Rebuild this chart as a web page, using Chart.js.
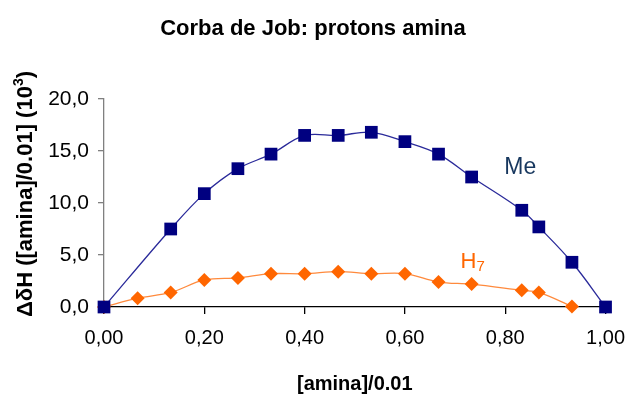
<!DOCTYPE html>
<html>
<head>
<meta charset="utf-8">
<script src="https://cdn.jsdelivr.net/npm/chart.js@4.4.1/dist/chart.umd.min.js"></script>
<style>
  html, body { margin: 0; padding: 0; background: #ffffff; }
  #wrap { width: 637px; height: 396px; position: relative; }
</style>
</head>
<body>
<div id="wrap"><canvas id="c" width="637" height="396"></canvas></div>
<script>
// Data
const titleText = "Corba de Job: protons amina";
const xAxisTitle = "[amina]/0.01";
const yAxisTitleParts = ["\u0394\u03B4H ([amina]/0.01] (10", "3", ")"];
const meX = [0, 0.133, 0.2, 0.267, 0.333, 0.4, 0.467, 0.533, 0.6, 0.667, 0.733, 0.833, 0.867, 0.933, 1.0];
const meY = [0, 7.5, 10.9, 13.3, 14.7, 16.5, 16.5, 16.8, 15.9, 14.7, 12.5, 9.3, 7.7, 4.3, 0];
const h7X = [0, 0.067, 0.133, 0.2, 0.267, 0.333, 0.4, 0.467, 0.533, 0.6, 0.667, 0.733, 0.833, 0.867, 0.933];
const h7Y = [0, 0.85, 1.4, 2.6, 2.8, 3.2, 3.2, 3.4, 3.2, 3.2, 2.4, 2.2, 1.6, 1.4, 0.05];
const xTicks = [0, 0.2, 0.4, 0.6, 0.8, 1.0];
const yTicks = [0, 5, 10, 15, 20];

const toPts = (xs, ys) => xs.map((x, i) => ({ x: x, y: ys[i] }));
const fmt = (v, d) => v.toFixed(d).replace('.', ',');
const FONT = "'Liberation Sans', Arial, sans-serif";

const labelsPlugin = {
  id: 'labels',
  afterDraw(chart) {
    const ctx = chart.ctx;
    const xs = chart.scales.x, ys = chart.scales.y;
    ctx.save();
    // main title
    ctx.fillStyle = '#000000';
    ctx.font = "bold 22px " + FONT;
    ctx.textAlign = 'center';
    ctx.textBaseline = 'middle';
    ctx.fillText(titleText, 313, 29);

    // y-axis title (rotated, with superscript)
    ctx.save();
    ctx.translate(26, 194);
    ctx.rotate(-Math.PI / 2);
    ctx.textAlign = 'left';
    ctx.textBaseline = 'middle';
    const big = "bold 22px " + FONT, small = "bold 14px " + FONT;
    ctx.font = big; const w0 = ctx.measureText(yAxisTitleParts[0]).width;
    ctx.font = small; const w1 = ctx.measureText(yAxisTitleParts[1]).width;
    ctx.font = big; const w2 = ctx.measureText(yAxisTitleParts[2]).width;
    let sx = -(w0 + w1 + w2) / 2;
    ctx.font = big; ctx.fillText(yAxisTitleParts[0], sx, 0); sx += w0;
    ctx.font = small; ctx.fillText(yAxisTitleParts[1], sx, -7); sx += w1;
    ctx.font = big; ctx.fillText(yAxisTitleParts[2], sx, 0);
    ctx.restore();

    // series labels
    ctx.font = "23px " + FONT;
    ctx.fillStyle = '#17375E';
    ctx.textAlign = 'center';
    ctx.fillText('Me', xs.getPixelForValue(0.83), ys.getPixelForValue(13.4));
    ctx.fillStyle = '#FF6600';
    ctx.textAlign = 'left';
    const hx = xs.getPixelForValue(0.711), hy = ys.getPixelForValue(4.3);
    ctx.font = "22px " + FONT;
    ctx.fillText('H', hx, hy);
    const w = ctx.measureText('H').width;
    ctx.font = "15px " + FONT;
    ctx.fillText('7', hx + w, hy + 5);
    ctx.restore();
  }
};

new Chart(document.getElementById('c'), {
  type: 'scatter',
  data: {
    datasets: [
      {
        label: 'Me',
        data: toPts(meX, meY),
        showLine: true,
        borderColor: '#2A2A9A',
        borderWidth: 1.3,
        backgroundColor: '#000080',
        pointBackgroundColor: '#000080',
        pointBorderColor: '#000080',
        pointStyle: 'rect',
        pointRadius: 9,
        pointBorderWidth: 0,
        tension: 0.35,
        clip: false
      },
      {
        label: 'H7',
        data: toPts(h7X, h7Y),
        showLine: true,
        borderColor: '#FF8A3D',
        borderWidth: 1.3,
        backgroundColor: '#FF6600',
        pointBackgroundColor: '#FF6600',
        pointBorderColor: '#FF6600',
        pointStyle: 'rectRot',
        pointRadius: 7,
        pointBorderWidth: 0,
        tension: 0.35,
        clip: false
      }
    ]
  },
  options: {
    responsive: false,
    animation: false,
    devicePixelRatio: 1,
    layout: { padding: { top: 99, right: 26, bottom: 0, left: 0 } },
    plugins: { legend: { display: false }, tooltip: { enabled: false }, title: { display: false } },
    scales: {
      x: {
        type: 'linear',
        min: 0, max: 1,
        afterBuildTicks(s) { s.ticks = xTicks.map(v => ({ value: v })); },
        afterFit(s) { s.height = 89; },
        ticks: {
          callback: v => fmt(v, 2),
          color: '#000000',
          font: { family: FONT, size: 20 },
          padding: 12,
          maxRotation: 0,
          autoSkip: false
        },
        grid: { drawOnChartArea: false, drawTicks: true, tickLength: 7, color: '#000000', lineWidth: 1.3 },
        border: { color: '#000000', width: 1.3 },
        title: {
          display: true,
          text: xAxisTitle,
          color: '#000000',
          font: { family: FONT, size: 20, weight: 'bold' },
          padding: { top: 0, bottom: 0 }
        }
      },
      y: {
        type: 'linear',
        min: 0, max: 20,
        afterBuildTicks(s) { s.ticks = yTicks.map(v => ({ value: v })); },
        afterFit(s) { s.width = 104; },
        ticks: {
          callback: v => fmt(v, 1),
          color: '#000000',
          font: { family: FONT, size: 21 },
          padding: 9
        },
        grid: { drawOnChartArea: false, drawTicks: true, tickLength: 6, color: '#808080', lineWidth: 1.3 },
        border: { color: '#808080', width: 1.3 },
        title: { display: false }
      }
    }
  },
  plugins: [labelsPlugin]
});
</script>
</body>
</html>
